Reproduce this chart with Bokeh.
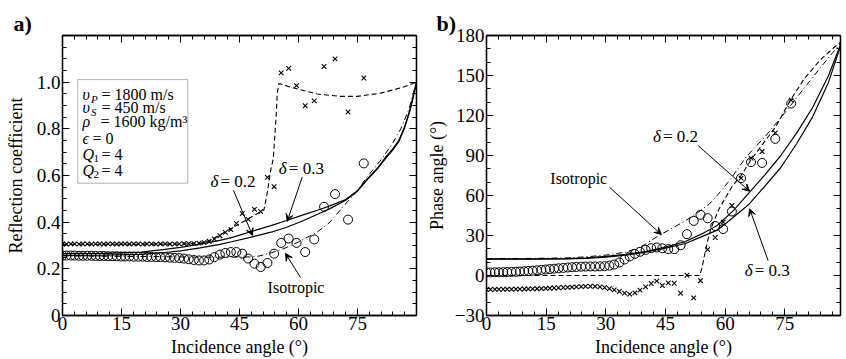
from bokeh.plotting import figure
from bokeh.layouts import row
from bokeh.models import (Range1d, LinearAxis, FixedTicker, CustomJSTickFormatter,
                          BoxAnnotation, Label, Arrow, VeeHead, Title)
from bokeh.embed import file_html
from bokeh.resources import INLINE

SERIF = "Liberation Serif"

# ---------------------------------------------------------------- data
# incidence angles of the measured traces (degrees)
trace_angle = [0.0, 1.0, 2.1, 3.1, 4.2, 5.2, 6.3, 7.4, 8.4, 9.5,
               10.5, 11.6, 12.7, 13.8, 14.9, 15.9, 17.0, 18.1, 19.3, 20.4,
               21.5, 22.6, 23.8, 24.9, 26.1, 27.3, 28.5, 29.7, 30.9, 32.1,
               33.4, 34.7, 36.0, 37.3, 38.6, 40.0, 41.4, 42.8, 44.2, 45.7,
               47.2, 48.8, 50.4, 52.1, 53.8, 55.6, 57.5, 59.5, 61.7, 64.0,
               66.5, 69.3, 72.6, 76.6]

# (a) reflection coefficient picked from the traces
refl_circles = [0.257, 0.257, 0.257, 0.257, 0.256, 0.256, 0.256, 0.256, 0.255, 0.255,
                0.255, 0.254, 0.254, 0.254, 0.253, 0.253, 0.253, 0.252, 0.252, 0.252,
                0.251, 0.251, 0.250, 0.250, 0.249, 0.248, 0.247, 0.246, 0.244, 0.241,
                0.238, 0.236, 0.236, 0.240, 0.250, 0.261, 0.268, 0.272, 0.272, 0.265,
                0.244, 0.222, 0.208, 0.225, 0.265, 0.311, 0.330, 0.311, 0.272, 0.326,
                0.466, 0.520, 0.411, 0.652]
refl_crosses = [0.307, 0.306, 0.307, 0.307, 0.306, 0.307, 0.307, 0.306, 0.307, 0.307,
                0.306, 0.307, 0.307, 0.306, 0.307, 0.307, 0.306, 0.307, 0.307, 0.306,
                0.307, 0.307, 0.306, 0.307, 0.307, 0.306, 0.307, 0.307, 0.308, 0.308,
                0.309, 0.310, 0.313, 0.318, 0.328, 0.342, 0.356, 0.368, 0.395, 0.437,
                0.412, 0.455, 0.445, 0.592, 0.552, 1.040, 1.059, 0.985, 0.899, 0.920,
                1.067, 1.100, 0.872, 1.018]

# (a) model curves
refl_d03_angle = [0, 10, 20, 26, 30, 35, 40, 43, 48, 53, 57, 61, 65, 68, 72, 75,
                  77.5, 80, 82, 84, 85.5, 87, 88.3, 89.3, 90]
refl_d03 = [0.265, 0.266, 0.272, 0.283, 0.292, 0.306, 0.322, 0.334, 0.360, 0.385,
            0.407, 0.430, 0.452, 0.470, 0.497, 0.535, 0.585, 0.630, 0.675, 0.715,
            0.750, 0.810, 0.880, 0.950, 1.000]
refl_d02_angle = [0, 10, 20, 26, 30, 35, 40, 43, 48, 53, 57, 61, 65, 68, 72, 75,
                  77.5, 80, 82, 84, 85.5, 87, 88.3, 89.3, 90]
refl_d02 = [0.258, 0.259, 0.262, 0.270, 0.277, 0.290, 0.305, 0.316, 0.336, 0.357,
            0.378, 0.405, 0.435, 0.458, 0.494, 0.533, 0.582, 0.627, 0.670, 0.710,
            0.745, 0.805, 0.875, 0.945, 1.000]
refl_iso_angle = [0, 20, 35, 45, 48, 50, 53, 56.3, 60, 64.8, 68, 72.4, 74, 77.5,
                  81.3, 84, 86, 88, 89.3, 90]
refl_iso = [0.255, 0.253, 0.250, 0.250, 0.251, 0.255, 0.268, 0.287, 0.315, 0.358,
            0.400, 0.487, 0.515, 0.595, 0.674, 0.740, 0.800, 0.880, 0.960, 1.000]
refl_dash_angle = [0, 30, 35, 37.6, 40, 43, 45, 47, 49, 51.2, 52.0, 52.9, 53.6,
                   53.9, 54.3, 54.6, 55.0, 56, 58, 60.5, 64.8, 70.7, 74.9, 80.9,
                   85.9, 88, 90]
refl_dash = [0.305, 0.306, 0.310, 0.322, 0.345, 0.374, 0.393, 0.412, 0.432, 0.452,
             0.520, 0.620, 0.673, 0.752, 0.850, 0.951, 0.994, 0.990, 0.978, 0.968,
             0.949, 0.939, 0.939, 0.953, 0.975, 0.987, 1.000]

# (b) phase angle picked from the traces (degrees)
phase_circles = [2.3, 2.3, 2.4, 2.4, 2.5, 2.6, 2.7, 2.8, 3.0, 3.2,
                 3.4, 3.6, 3.9, 4.2, 4.5, 4.8, 5.1, 5.4, 5.7, 6.0,
                 6.2, 6.4, 6.6, 6.7, 6.8, 6.8, 6.9, 7.0, 7.4, 8.2,
                 9.8, 12.0, 14.3, 16.2, 17.8, 19.2, 20.5, 21.0, 20.4, 19.8,
                 19.8, 22.7, 31.0, 41.0, 45.5, 43.0, 37.1, 34.8, 48.0, 73.0,
                 85.0, 84.4, 102.5, 129.0]
phase_crosses = [-10.5, -10.5, -10.4, -10.4, -10.3, -10.3, -10.3, -10.2, -10.2, -10.1,
                 -10.0, -10.0, -9.9, -9.8, -9.7, -9.6, -9.4, -9.2, -9.0, -8.9,
                 -8.7, -8.5, -8.3, -8.2, -8.1, -8.2, -8.5, -9.0, -9.8, -10.8,
                 -12.0, -13.2, -14.0, -13.0, -11.0, -8.5, -6.0, -4.2, -7.5, -5.5,
                 -5.8, -13.3, 0.2, -16.8, -3.9, 19.5, 28.5, 40.0, 52.5, 73.0,
                 88.0, 93.0, 107.0, 131.5]

# (b) model curves
phase_model_angle = [0, 10, 20, 25, 30, 35, 40, 45, 50, 54, 58, 62, 66, 70, 74, 78, 82, 86, 89]
phase_d02 = [12.5, 12.5, 12.7, 13.2, 14.3, 15.8, 18.0, 21.3, 25.5, 31.0,
             37.5, 48.5, 62.0, 75.5, 90.0, 107.0, 126.0, 150.0, 173.0]
phase_d03 = [12.2, 12.2, 12.4, 12.9, 13.8, 15.3, 17.5, 20.5, 24.0, 29.0,
             34.0, 43.5, 53.5, 67.0, 81.0, 99.0, 119.0, 145.0, 172.0]
phase_iso_angle = [0, 10, 20, 25, 30, 35, 38, 40, 42, 44, 47, 50, 53, 56, 58, 61.2,
                   65.3, 70, 75, 80, 84, 87, 89]
phase_iso = [12.7, 12.8, 13.2, 14.0, 15.3, 17.5, 20.5, 23.5, 27.5, 31.0, 36.0, 41.0,
             47.0, 53.5, 60.0, 71.6, 89.0, 104.0, 122.0, 141.0, 156.0, 167.0, 174.0]
phase_dash_angle = [0, 53.6, 54.2, 54.8, 55.5, 56.5, 58.4, 60, 61.8, 64, 66.8, 69.3,
                    72.7, 76.5, 80, 84, 87, 89]
phase_dash = [0, 0, 6, 15, 25, 36, 49.5, 58, 67, 75, 88, 98, 111.5, 132, 148, 162,
              170, 175]

# ticks and tick labels
angle_ticks = [0, 15, 30, 45, 60, 75, 90]
angle_tick_labels = ["0", "15", "30", "45", "60", "75", ""]
angle_minor = [0, 3, 6, 9, 12, 15, 18, 21, 24, 27, 30, 33, 36, 39, 42, 45, 48, 51,
               54, 57, 60, 63, 66, 69, 72, 75, 78, 81, 84, 87, 90]
refl_ticks = [0, 0.2, 0.4, 0.6, 0.8, 1.0, 1.2]
refl_tick_labels = ["0", "0.2", "0.4", "0.6", "0.8", "1.0", ""]
refl_minor = [0, 0.05, 0.1, 0.15, 0.2, 0.25, 0.3, 0.35, 0.4, 0.45, 0.5, 0.55, 0.6,
              0.65, 0.7, 0.75, 0.8, 0.85, 0.9, 0.95, 1.0, 1.05, 1.1, 1.15, 1.2]
phase_ticks = [-30, 0, 30, 60, 90, 120, 150, 180]
phase_tick_labels = ["\u221230", "0", "30", "60", "90", "120", "150", "180"]
phase_minor = [-30, -20, -10, 0, 10, 20, 30, 40, 50, 60, 70, 80, 90, 100, 110, 120,
               130, 140, 150, 160, 170, 180]


# ---------------------------------------------------------------- helpers
def tick_formatter(positions, texts):
    return CustomJSTickFormatter(args=dict(positions=positions, texts=texts), code="""
        for (let i = 0; i < positions.length; i++) {
            if (Math.abs(positions[i] - tick) < 1e-6) { return texts[i]; }
        }
        return "";
    """)


def style_axis(ax, ticks, minor, labels=None, title=None, label_standoff=2, title_standoff=2):
    ax.ticker = FixedTicker(ticks=ticks, minor_ticks=minor)
    ax.major_tick_in = 7
    ax.major_tick_out = 0
    ax.minor_tick_in = 4
    ax.minor_tick_out = 0
    ax.axis_line_color = "black"
    ax.axis_line_width = 1.3
    ax.major_tick_line_color = "black"
    ax.minor_tick_line_color = "black"
    ax.major_tick_line_width = 1
    ax.minor_tick_line_width = 1
    if labels is None:
        ax.formatter = tick_formatter(ticks, [""] * len(ticks))
        ax.major_label_standoff = 0
    else:
        ax.formatter = tick_formatter(ticks, labels)
        ax.major_label_text_font = SERIF
        ax.major_label_text_font_size = "19px"
        ax.major_label_text_color = "black"
        ax.major_label_standoff = label_standoff
    if title is not None:
        ax.axis_label = title
        ax.axis_label_text_font = SERIF
        ax.axis_label_text_font_size = "18px"
        ax.axis_label_text_font_style = "normal"
        ax.axis_label_text_color = "black"
        ax.axis_label_standoff = title_standoff


def make_panel(tag, x_end, y_start, y_end, border_left, border_right):
    p = figure(frame_width=354, frame_height=280,
               x_range=Range1d(0, x_end), y_range=Range1d(y_start, y_end),
               output_backend="svg", toolbar_location=None,
               min_border_left=border_left, min_border_right=border_right,
               min_border_top=35, min_border_bottom=44,
               background_fill_color="white", border_fill_color="white")
    # panel tag ("a)", "b)") set in the top border, to the left of the frame
    p.title = Title(text=tag, align="left", offset=-(border_left - 13), standoff=0,
                    text_font=SERIF, text_font_size="22px", text_font_style="bold",
                    text_color="black")
    p.xgrid.visible = False
    p.ygrid.visible = False
    p.outline_line_color = "black"
    p.outline_line_width = 1.3
    return p


def text(p, x, y, s, size="16px", style="normal", align="left", baseline="middle",
         dx=0, dy=0):
    p.add_layout(Label(x=x, y=y, text=s, x_offset=dx, y_offset=dy,
                       text_font=SERIF, text_font_size=size, text_font_style=style,
                       text_align=align, text_baseline=baseline, text_color="black"))


def pointer(p, x0, y0, x1, y1):
    p.add_layout(Arrow(x_start=x0, y_start=y0, x_end=x1, y_end=y1,
                       line_color="black", line_width=1,
                       end=VeeHead(size=7, fill_color="black", line_color="black",
                                   line_width=1)))


def delta_label(p, x, y, s):
    text(p, x, y, "\u03b4", size="17px", style="italic")
    text(p, x, y, "= " + s, size="17px", dx=10)


# ---------------------------------------------------------------- (a) reflection coefficient
pa = make_panel("a)", 90, 0, 1.2, 62, 7)
style_axis(pa.xaxis[0], angle_ticks, angle_minor, angle_tick_labels,
           "Incidence angle (\u00b0)", label_standoff=1, title_standoff=4)
style_axis(pa.yaxis[0], refl_ticks, refl_minor, refl_tick_labels,
           "Reflection coefficient", label_standoff=2, title_standoff=8)
top_a = LinearAxis()
style_axis(top_a, angle_ticks, angle_minor)
pa.add_layout(top_a, "above")
right_a = LinearAxis()
style_axis(right_a, refl_ticks, refl_minor)
pa.add_layout(right_a, "right")

pa.line(refl_d03_angle, refl_d03, line_color="black", line_width=1.2)
pa.line(refl_d02_angle, refl_d02, line_color="black", line_width=1.2)
pa.line(refl_iso_angle, refl_iso, line_color="black", line_width=1, line_dash="6 3 1 3")
pa.line(refl_dash_angle, refl_dash, line_color="black", line_width=1.1, line_dash="5 3")
pa.scatter(trace_angle, refl_circles, marker="circle", size=9, fill_color=None,
           line_color="black", line_width=1)
pa.scatter(trace_angle, refl_crosses, marker="x", size=6.5, line_color="black",
           line_width=1.1)

# model parameter box
pa.add_layout(BoxAnnotation(left=3.89, right=31.86, bottom=0.567, top=1.011,
                            fill_color="white", fill_alpha=1, line_color="black",
                            line_width=1))
bx = 5.09
text(pa, bx, 0.947, "\u03c5", style="italic")
text(pa, bx, 0.947, "P", size="11px", style="italic", dx=8.5, dy=-4)
text(pa, bx, 0.947, "= 1800 m/s", dx=19)
text(pa, bx, 0.890, "\u03c5", style="italic")
text(pa, bx, 0.890, "S", size="11px", style="italic", dx=8.5, dy=-4)
text(pa, bx, 0.890, "= 450 m/s", dx=19)
text(pa, bx, 0.833, "\u03c1", style="italic")
text(pa, bx, 0.833, "= 1600 kg/m\u00b3", dx=18)
text(pa, bx, 0.757, "\u03f5", style="italic")
text(pa, bx, 0.757, "= 0", dx=10)
text(pa, bx, 0.690, "Q", style="italic")
text(pa, bx, 0.690, "1", size="11px", dx=11, dy=-4)
text(pa, bx, 0.690, "= 4", dx=19)
text(pa, bx, 0.621, "Q", style="italic")
text(pa, bx, 0.621, "2", size="11px", dx=11, dy=-4)
text(pa, bx, 0.621, "= 4", dx=19)

delta_label(pa, 37.63, 0.574, "0.2")
pointer(pa, 43.48, 0.536, 48.31, 0.343)
delta_label(pa, 55.0, 0.629, "0.3")
pointer(pa, 60.95, 0.593, 57.13, 0.404)
text(pa, 59.37, 0.121, "Isotropic", align="center")
pointer(pa, 60.51, 0.163, 56.70, 0.266)

# ---------------------------------------------------------------- (b) phase angle
pb = make_panel("b)", 89, -30, 180, 63, 6)
style_axis(pb.xaxis[0], angle_ticks, angle_minor, angle_tick_labels,
           "Incidence angle (\u00b0)", label_standoff=1, title_standoff=4)
style_axis(pb.yaxis[0], phase_ticks, phase_minor, phase_tick_labels,
           "Phase angle (\u00b0)", label_standoff=2, title_standoff=5)
top_b = LinearAxis()
style_axis(top_b, angle_ticks, angle_minor)
pb.add_layout(top_b, "above")
right_b = LinearAxis()
style_axis(right_b, phase_ticks, phase_minor)
pb.add_layout(right_b, "right")

pb.line(phase_model_angle, phase_d02, line_color="black", line_width=1.2)
pb.line(phase_model_angle, phase_d03, line_color="black", line_width=1.2)
pb.line(phase_iso_angle, phase_iso, line_color="black", line_width=1, line_dash="6 3 1 3")
pb.line(phase_dash_angle, phase_dash, line_color="black", line_width=1.1, line_dash="5 3")
pb.scatter(trace_angle, phase_circles, marker="circle", size=9, fill_color=None,
           line_color="black", line_width=1)
pb.scatter(trace_angle, phase_crosses, marker="x", size=6.5, line_color="black",
           line_width=1.1)

text(pb, 23.19, 72.5, "Isotropic", align="center")
pointer(pb, 30.94, 66.2, 43.95, 30.75)
delta_label(pb, 41.86, 104.25, "0.2")
pointer(pb, 53.18, 97.5, 66.16, 63.2)
delta_label(pb, 64.9, 3.75, "0.3")
pointer(pb, 70.79, 11.25, 66.16, 50.0)

layout = row(pa, pb, spacing=0)
open("out.html", "w").write(file_html(layout, INLINE))
